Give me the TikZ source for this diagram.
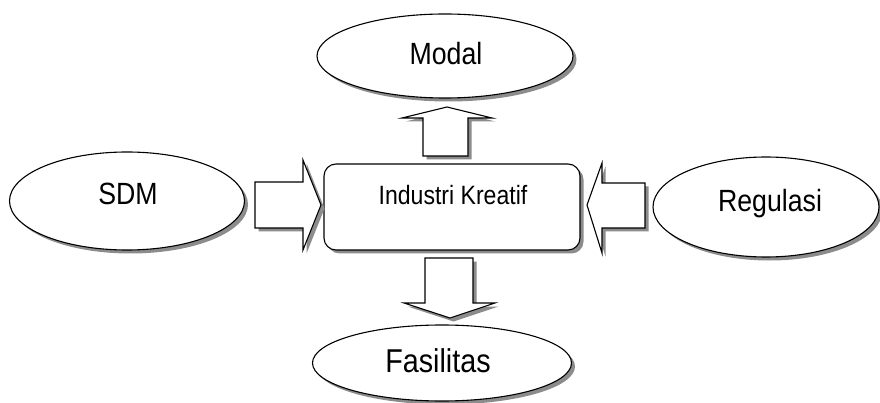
\documentclass[tikz,border=0pt]{standalone}
\usepackage{fontspec}
\setmainfont{Liberation Sans}
\newfontfamily\narrowfont[FakeStretch=0.87]{Liberation Sans}
\usetikzlibrary{shapes.geometric,shadows}
\tikzset{
  shp/.style={draw=black, line width=1.1pt, fill=white,
    drop shadow={shadow xshift=3.5pt, shadow yshift=-3.5pt, fill=black!45, opacity=1}},
  ell/.style={shp, ellipse, inner sep=0pt},
  lbl/.style={anchor=base, inner sep=0pt, font=\narrowfont\fontsize{30.7}{34}\selectfont},
  lblsmall/.style={anchor=base, inner sep=0pt, font=\narrowfont\fontsize{26.5}{30}\selectfont},
  blk/.style={shp, line join=miter}
}
\begin{document}
\begin{tikzpicture}[x=1pt,y=-1pt]
\useasboundingbox (0,0) rectangle (880,403);
% ellipses
\node[ell, minimum width=256pt, minimum height=84pt] (modalE) at (445,56) {};
\node[ell, minimum width=235pt, minimum height=98pt] (sdmE) at (127,201) {};
\node[ell, minimum width=226pt, minimum height=100pt] (regE) at (766,207) {};
\node[ell, minimum width=259pt, minimum height=76pt] (fasE) at (442,363) {};
% centre box
\node[shp, rounded corners=12pt, minimum width=256pt, minimum height=86pt, inner sep=0pt] (ik) at (452,207) {};
% labels
\node[lbl] (modalT) at (446,65) {Modal};
\node[lbl] (sdmT) at (128,205) {SDM};
\node[lbl] (regT) at (770,212) {Regulasi};
\node[lbl, font=\narrowfont\fontsize{33}{36}\selectfont] (fasT) at (438,372) {Fasilitas};
\node[lblsmall] (ikT) at (453,205) {Industri Kreatif};
% block arrows
\draw[blk] (423,156) -- (423,118) -- (402,118) -- (447,107) -- (492,118) -- (468,118) -- (468,156) -- cycle;
\draw[blk] (425,258) -- (473,258) -- (473,303) -- (495,303) -- (450,318) -- (404,303) -- (425,303) -- cycle;
\draw[blk] (255,182) -- (303,182) -- (303,160) -- (321,205) -- (303,250) -- (303,228) -- (255,228) -- cycle;
\draw[blk] (645,183) -- (602,183) -- (602,163) -- (587,205) -- (602,253) -- (602,228) -- (645,228) -- cycle;
\end{tikzpicture}
\end{document}
